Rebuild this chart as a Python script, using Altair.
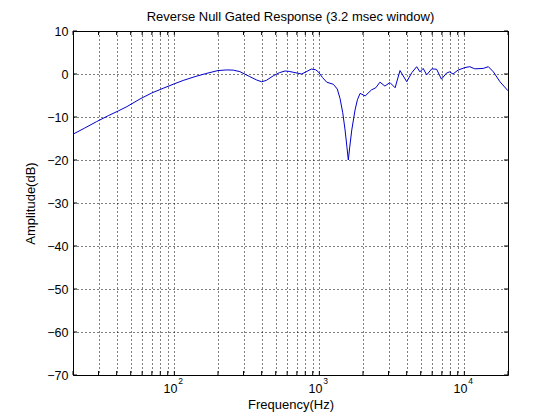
import altair as alt
import pandas as pd

# Frequency response
freq_hz = [20, 24, 29, 35, 41, 47, 58, 70, 84, 98, 115, 139, 165, 200, 230, 255, 283, 331,
           370, 400, 430, 482, 530, 580, 620, 660, 755, 820, 880, 940, 985, 1050, 1124,
           1250, 1330, 1389, 1450, 1504, 1550, 1584, 1620, 1674, 1762, 1830, 1910, 2070,
           2288, 2450, 2618, 2830, 3070, 3330, 3600, 4006, 4340, 4690, 4940, 5200, 5500,
           5960, 6440, 6950, 7530, 7920, 8350, 9040, 10100, 10900, 11800, 13500, 14640,
           15860, 17600, 20000]
amp_db = [-14.0, -12.6, -11.1, -9.7, -8.6, -7.6, -5.8, -4.4, -3.3, -2.4, -1.5, -0.6, 0.1,
          0.8, 0.95, 0.9, 0.55, -0.6, -1.4, -1.8, -1.5, -0.4, 0.3, 0.7, 0.6, 0.4, 0.0, 0.6,
          1.15, 1.0, 0.5, -0.8, -1.9, -2.4, -3.5, -5.7, -9.0, -13.0, -17.0, -20.0, -17.0,
          -13.0, -8.4, -6.0, -4.5, -5.1, -3.7, -3.2, -1.9, -2.8, -2.0, -3.2, 0.8, -1.8, 0.3,
          1.7, 0.5, 1.3, -0.2, 1.2, 1.1, -1.2, 0.2, 0.5, 0.0, 0.9, 1.5, 1.7, 1.2, 1.3, 1.7,
          0.5, -1.8, -3.9]

x_grid = [20, 30, 40, 50, 60, 70, 80, 90, 100, 200, 300, 400, 500, 600, 700, 800, 900,
          1000, 2000, 3000, 4000, 5000, 6000, 7000, 8000, 9000, 10000, 20000]
decade_values = [100, 1000, 10000]
decade_base = ["10", "10", "10"]
decade_exp = ["2", "3", "4"]
y_ticks = [-70, -60, -50, -40, -30, -20, -10, 0, 10]

title_text = "Reverse Null Gated Response (3.2 msec window)"
x_title = "Frequency(Hz)"
y_title = "Amplitude(dB)"

FONT = "Liberation Sans"
W, H = 435, 344
TL = 4

curve = pd.DataFrame({"f": freq_hz, "db": amp_db})
xt = pd.DataFrame({"f": x_grid})
yt = pd.DataFrame({"db": y_ticks})
dec = pd.DataFrame({"f": decade_values, "base": decade_base, "exp": decade_exp})

xscale = alt.Scale(type="log", domain=[20, 20000], nice=False)
yscale = alt.Scale(domain=[-70, 10], nice=False, zero=False)

xaxis = alt.Axis(values=x_grid, labels=False, title=x_title, grid=True,
                 gridDash=[1, 3], gridColor="black", gridOpacity=1, gridWidth=1,
                 ticks=False, domain=False,
                 titleFont=FONT, titleFontSize=13, titleFontWeight="normal",
                 titleColor="black", titlePadding=23)
yaxis = alt.Axis(values=y_ticks, title=y_title, grid=True, gridDash=[1, 3],
                 gridColor="black", gridOpacity=1, gridWidth=1, ticks=False,
                 domain=False, labelFont=FONT, labelFontSize=12.5, labelColor="black",
                 labelPadding=5, titleFont=FONT, titleFontSize=13,
                 titleFontWeight="normal", titleColor="black", titlePadding=9)

line = alt.Chart(curve).mark_line(color="#0000cc", strokeWidth=1, clip=True).encode(
    x=alt.X("f:Q", scale=xscale, axis=xaxis),
    y=alt.Y("db:Q", scale=yscale, axis=yaxis),
)

tick_b = alt.Chart(xt).mark_rule(color="black", strokeWidth=1).encode(
    x=alt.X("f:Q", scale=xscale), y=alt.value(H), y2=alt.value(H - TL))
tick_t = alt.Chart(xt).mark_rule(color="black", strokeWidth=1).encode(
    x=alt.X("f:Q", scale=xscale), y=alt.value(0), y2=alt.value(TL))
tick_l = alt.Chart(yt).mark_rule(color="black", strokeWidth=1).encode(
    y=alt.Y("db:Q", scale=yscale), x=alt.value(0), x2=alt.value(TL))
tick_r = alt.Chart(yt).mark_rule(color="black", strokeWidth=1).encode(
    y=alt.Y("db:Q", scale=yscale), x=alt.value(W), x2=alt.value(W - TL))

lab_base = alt.Chart(dec).mark_text(font=FONT, fontSize=12.5, color="black",
                                    align="right", baseline="alphabetic", dx=3).encode(
    x=alt.X("f:Q", scale=xscale), y=alt.value(H + 18), text="base:N")
lab_exp = alt.Chart(dec).mark_text(font=FONT, fontSize=8.5, color="black",
                                   align="left", baseline="alphabetic", dx=4).encode(
    x=alt.X("f:Q", scale=xscale), y=alt.value(H + 9), text="exp:N")

chart = alt.layer(line, tick_b, tick_t, tick_l, tick_r, lab_base, lab_exp).properties(
    width=W, height=H,
    title=alt.TitleParams(title_text, font=FONT, fontSize=13, fontWeight="normal",
                          color="black", offset=1, anchor="middle"),
    autosize=alt.AutoSizeParams(type="none"),
    padding={"left": 65, "top": 23, "right": 44, "bottom": 42},
    background="white",
).configure_view(stroke="black", strokeWidth=1)

chart.save("out.html", embed_options={"renderer": "svg", "actions": False})
